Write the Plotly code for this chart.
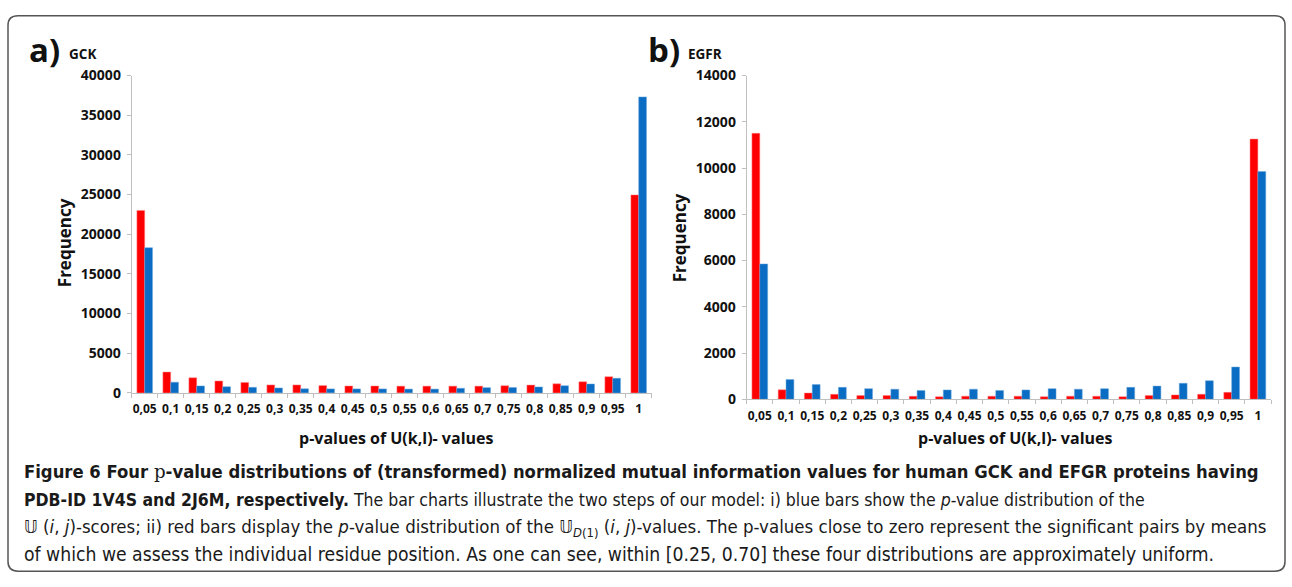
import plotly.graph_objects as go

categories = ["0,05", "0,1", "0,15", "0,2", "0,25", "0,3", "0,35", "0,4", "0,45", "0,5",
              "0,55", "0,6", "0,65", "0,7", "0,75", "0,8", "0,85", "0,9", "0,95", "1"]

gck_red = [23000, 2620, 1900, 1500, 1320, 1000, 1000, 920, 870, 870,
           850, 850, 850, 850, 900, 980, 1140, 1400, 2040, 24950]
gck_blue = [18300, 1350, 880, 780, 700, 620, 520, 500, 500, 500,
            480, 480, 580, 660, 670, 750, 900, 1120, 1840, 37300]

egfr_red = [11500, 410, 270, 215, 160, 160, 130, 110, 135, 135,
            135, 110, 135, 135, 110, 165, 190, 220, 300, 11250]
egfr_blue = [5850, 850, 635, 515, 460, 435, 380, 405, 435, 380,
             405, 460, 435, 460, 515, 570, 690, 805, 1395, 9850]

gck_ticks = [0, 5000, 10000, 15000, 20000, 25000, 30000, 35000, 40000]
egfr_ticks = [0, 2000, 4000, 6000, 8000, 10000, 12000, 14000]

W, H = 1292, 587
RED = "#ff0000"
BLUE = "#0a6cc2"
AX = "#bfbfbf"
FONT = "Open Sans"


def px(x):
    return x / W


def py(y):
    return (H - y) / H


fig = go.Figure()
fig.add_trace(go.Bar(x=categories, y=gck_red, marker=dict(color=RED, line=dict(color="#ff8080", width=0.5)),
                     xaxis="x", yaxis="y", showlegend=False))
fig.add_trace(go.Bar(x=categories, y=gck_blue, marker=dict(color=BLUE, line=dict(color="#6aa6dc", width=0.5)),
                     xaxis="x", yaxis="y", showlegend=False))
fig.add_trace(go.Bar(x=categories, y=egfr_red, marker=dict(color=RED, line=dict(color="#ff8080", width=0.5)),
                     xaxis="x2", yaxis="y2", showlegend=False))
fig.add_trace(go.Bar(x=categories, y=egfr_blue, marker=dict(color=BLUE, line=dict(color="#6aa6dc", width=0.5)),
                     xaxis="x2", yaxis="y2", showlegend=False))

xcommon = dict(type="category", range=[-0.5, 19.5], showline=True, linecolor=AX, linewidth=1,
               ticks="outside", tickson="boundaries", ticklen=4, tickcolor=AX, tickangle=0,
               showgrid=False, zeroline=False,
               tickfont=dict(family=FONT, size=12, color="#111", weight="bold"),
               ticklabelstandoff=5, fixedrange=True)
ycommon = dict(showline=True, linecolor=AX, linewidth=1, ticks="outside", ticklen=4, tickcolor=AX,
               showgrid=False, zeroline=False,
               tickfont=dict(family=FONT, size=14, color="#111", weight="bold"),
               ticklabelstandoff=3, fixedrange=True)

fig.update_layout(
    width=W, height=H,
    margin=dict(l=0, r=0, t=0, b=0),
    paper_bgcolor="white", plot_bgcolor="white",
    barmode="group", bargap=0.4, bargroupgap=0,
    xaxis=dict(xcommon, domain=[px(131.7), px(651.7)], anchor="y"),
    yaxis=dict(ycommon, domain=[py(395.7), py(67.7)], range=[0, 40000], tickvals=gck_ticks,
               ticktext=[str(v) for v in gck_ticks], anchor="x"),
    xaxis2=dict(xcommon, domain=[px(746.7), px(1271)], anchor="y2"),
    yaxis2=dict(ycommon, domain=[py(402.3), py(67.7)], range=[0, 14000], tickvals=egfr_ticks,
                ticktext=[str(v) for v in egfr_ticks], anchor="x2"),
)

ann = []
# panel labels
ann.append(dict(text="<b>a)</b>", x=px(27), y=py(41), xanchor="left", yanchor="middle",
                font=dict(family=FONT, size=33, color="#111")))
ann.append(dict(text="<b>GCK</b>", x=px(67), y=py(45), xanchor="left", yanchor="middle",
                font=dict(family=FONT, size=13.5, color="#111")))
ann.append(dict(text="<b>b)</b>", x=px(646), y=py(41), xanchor="left", yanchor="middle",
                font=dict(family=FONT, size=33, color="#111")))
ann.append(dict(text="<b>EGFR</b>", x=px(686), y=py(45), xanchor="left", yanchor="middle",
                font=dict(family=FONT, size=13.5, color="#111")))
# axis titles
for xc, yc in [(64, 241), (679, 236)]:
    ann.append(dict(text="<b>Frequency</b>", x=px(xc), y=py(yc), textangle=-90,
                    xanchor="center", yanchor="middle",
                    font=dict(family=FONT, size=17, color="#111")))
for xc in [396, 1015]:
    ann.append(dict(text="<b>p-values of U(k,l)- values</b>", x=px(xc), y=py(442),
                    xanchor="center", yanchor="middle",
                    font=dict(family=FONT, size=16, color="#111")))

# caption
CAP = "Liberation Sans Narrow, DejaVu Sans Condensed, Roboto Condensed, Arial Narrow, sans-serif"
SER = "font-family:'DejaVu Serif', serif"
cap_lines = [
    "<b>Figure 6 Four </b><span style=\"" + SER + "\">p</span><b>-value distributions of (transformed) normalized mutual information values for human GCK and EFGR proteins having</b>",
    "<b>PDB-ID 1V4S and 2J6M, respectively.</b> The bar charts illustrate the two steps of our model: i) blue bars show the <i>p</i>-value distribution of the",
    "𝕌 (<i>i</i>, <i>j</i>)-scores; ii) red bars display the <i>p</i>-value distribution of the 𝕌<sub><i>D</i>(1)</sub> (<i>i</i>, <i>j</i>)-values. The p-values close to zero represent the significant pairs by means",
    "of which we assess the individual residue position. As one can see, within [0.25, 0.70] these four distributions are approximately uniform.",
]
cap_y = [477, 506, 535, 563]
cap_size = [18.3, 17.5, 18.5, 19.2]
for t, yy, fs in zip(cap_lines, cap_y, cap_size):
    ann.append(dict(text=t, x=px(22), y=py(yy), xanchor="left", yanchor="middle",
                    font=dict(family=CAP, size=fs, color="#1a1a1a")))

for a in ann:
    a.update(xref="paper", yref="paper", showarrow=False)
fig.update_layout(annotations=ann)

# rounded border
x0, x1, y0, y1 = px(8), px(1285), py(580), py(6)
rx, ry = 10 / W, 10 / H
path = (f"M {x0+rx},{y1} L {x1-rx},{y1} Q {x1},{y1} {x1},{y1-ry} "
        f"L {x1},{y0+ry} Q {x1},{y0} {x1-rx},{y0} L {x0+rx},{y0} Q {x0},{y0} {x0},{y0+ry} "
        f"L {x0},{y1-ry} Q {x0},{y1} {x0+rx},{y1} Z")
fig.add_shape(type="path", path=path, xref="paper", yref="paper",
              line=dict(color="#555555", width=1.5), fillcolor="rgba(0,0,0,0)", layer="below")

fig.write_html("out.html", config={"displayModeBar": False},
               post_script="document.body.style.margin='0';")
